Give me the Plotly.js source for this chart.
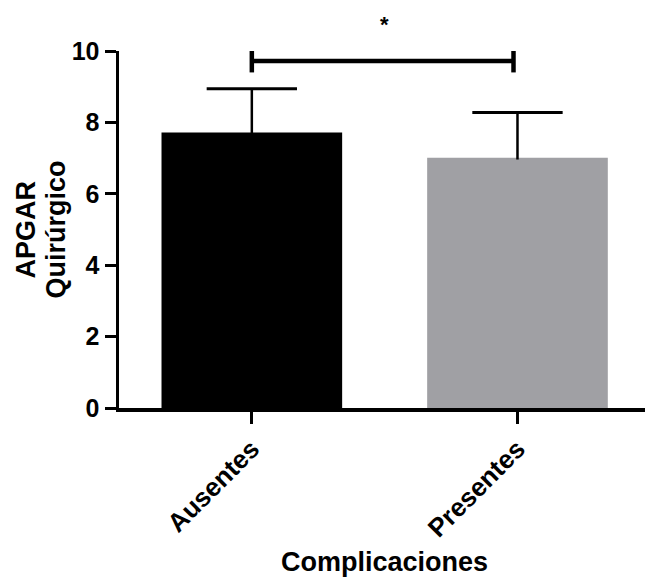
<!DOCTYPE html>
<html><head><meta charset="utf-8">
<script src="https://cdn.plot.ly/plotly-3.0.1.min.js"></script>
<style>body{margin:0;background:#fff}#chart{width:645px;height:579px}</style>
</head><body><div id="chart"></div>
<script>
var categories = ["Ausentes", "Presentes"];
var means = [7.72, 7.01];
var sdUpper = [1.22, 1.27];
var barColors = ["#000000", "#a0a0a4"];
var yTicks = [0, 2, 4, 6, 8, 10];
var bracketY = 9.72;
var significance = "*";
var yTitleLines = ["APGAR", "Quirúrgico"];
var xTitle = "Complicaciones";

var font = "Liberation Sans, Arial, Helvetica, sans-serif";
var capHalf = 0.17;

var trace = {
  type: "bar",
  x: categories,
  y: means,
  width: 0.68,
  marker: {color: barColors, line: {width: 0}},
  hoverinfo: "none"
};

var shapes = [];
categories.forEach(function (c, i) {
  var top = means[i] + sdUpper[i];
  shapes.push({type: "line", xref: "x", yref: "y", x0: i, x1: i, y0: means[i] - 0.05, y1: top, line: {color: "#000", width: 2.5}});
  shapes.push({type: "line", xref: "x", yref: "y", x0: i - capHalf, x1: i + capHalf, y0: top, y1: top, line: {color: "#000", width: 3}});
});
shapes.push({type: "line", xref: "x", yref: "y", x0: 0, x1: 0.985, y0: bracketY, y1: bracketY, line: {color: "#000", width: 4.5}});
shapes.push({type: "line", xref: "x", yref: "y", x0: 0, x1: 0, y0: 9.4, y1: 10.0, line: {color: "#000", width: 4.5}});
shapes.push({type: "line", xref: "x", yref: "y", x0: 0.985, x1: 0.985, y0: 9.4, y1: 10.0, line: {color: "#000", width: 4.5}});

var titleFont = {family: font, size: 27, color: "#000", weight: "bold"};

var layout = {
  width: 645, height: 579,
  margin: {l: 119, r: 0, t: 51, b: 171},
  paper_bgcolor: "#fff", plot_bgcolor: "#fff",
  showlegend: false,
  xaxis: {
    type: "category",
    range: [-0.5, 1.48],
    showline: true, linecolor: "#000", linewidth: 3.5,
    ticks: "outside", ticklen: 12, tickwidth: 3, tickcolor: "#000",
    tickangle: -45,
    tickfont: {family: font, size: 26, color: "#000", weight: "bold"},
    showgrid: false, zeroline: false
  },
  yaxis: {
    range: [0, 10],
    tickvals: yTicks,
    ticktext: yTicks.map(String),
    showline: true, linecolor: "#000", linewidth: 3.5,
    ticks: "outside", ticklen: 11, tickwidth: 3, tickcolor: "#000",
    tickfont: {family: font, size: 25, color: "#000", weight: "bold"},
    showgrid: false, zeroline: false
  },
  shapes: shapes,
  annotations: [
    {xref: "x", yref: "paper", x: 0.5, y: 1.075, text: significance, showarrow: false,
     font: {family: font, size: 22, color: "#000", weight: "bold"}, yanchor: "middle"},
    {xref: "paper", yref: "paper", x: (25 - 119) / 526, y: 0.5, text: yTitleLines[0], textangle: -90,
     showarrow: false, font: titleFont, xanchor: "center", yanchor: "middle"},
    {xref: "paper", yref: "paper", x: (55 - 119) / 526, y: 0.5, text: yTitleLines[1], textangle: -90,
     showarrow: false, font: titleFont, xanchor: "center", yanchor: "middle"},
    {xref: "paper", yref: "paper", x: (384 - 119) / 526, y: (408 - 562) / 357, text: xTitle,
     showarrow: false, font: titleFont, xanchor: "center", yanchor: "middle"}
  ]
};

Plotly.newPlot("chart", [trace], layout, {displayModeBar: false, staticPlot: true});
</script>
</body></html>
